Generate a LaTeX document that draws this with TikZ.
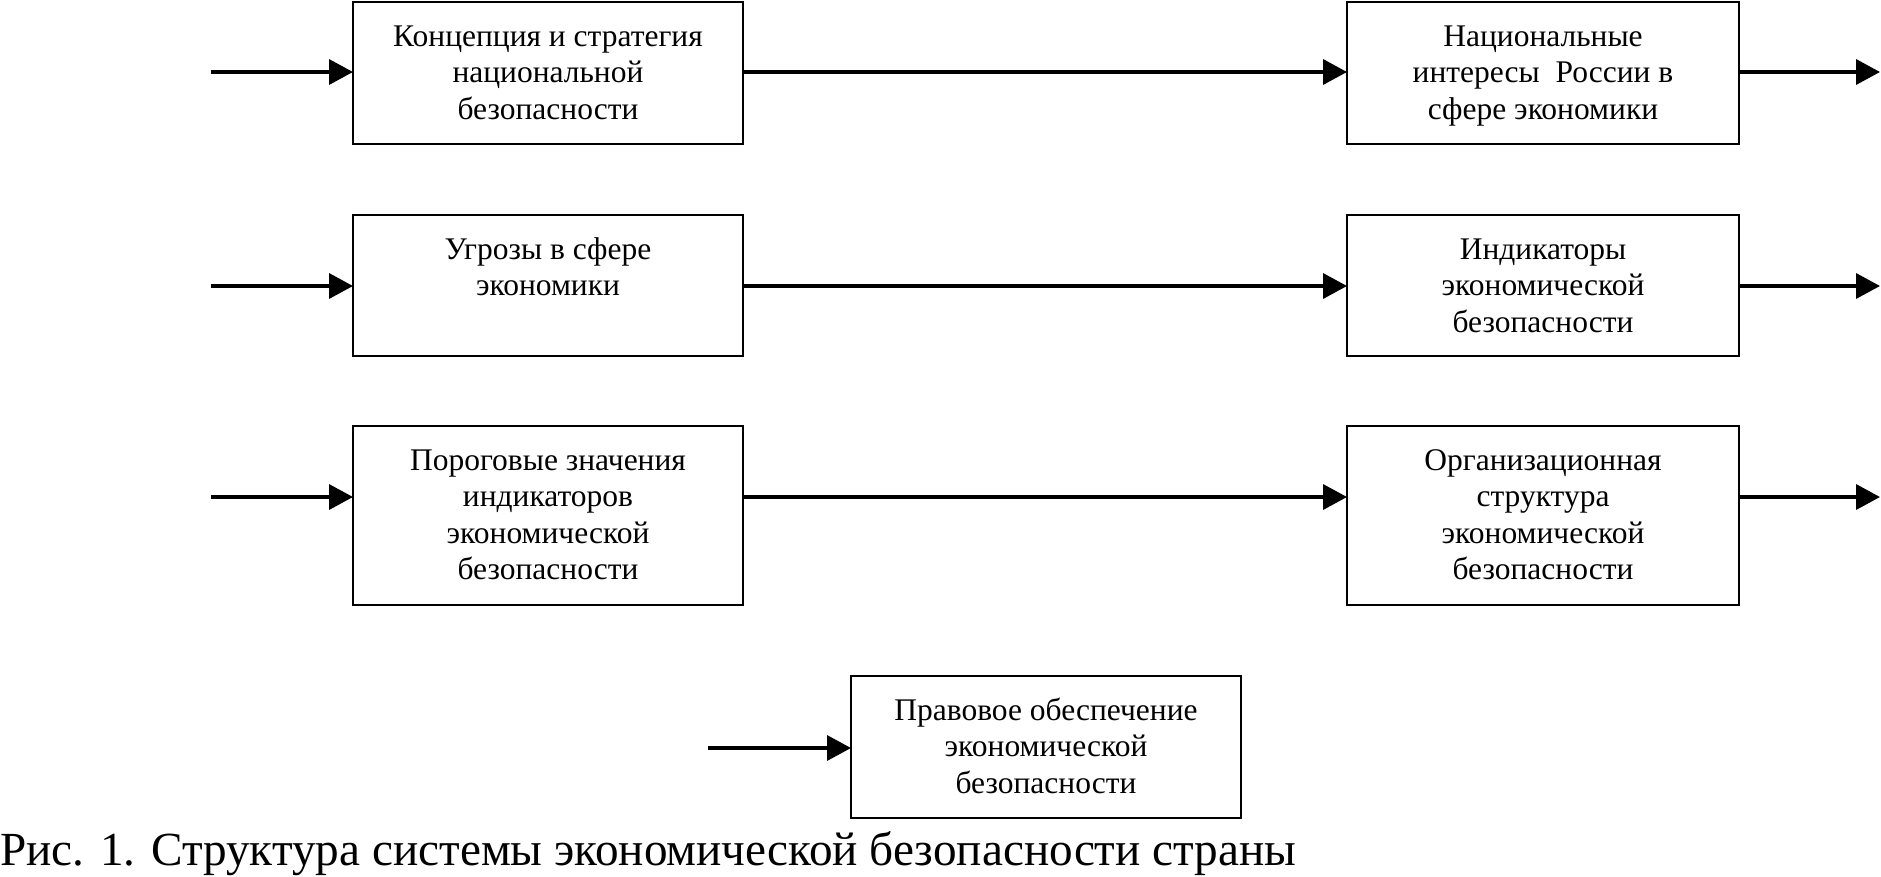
\documentclass[tikz,border=0pt]{standalone}
\usepackage{fontspec}
\setmainfont{Liberation Serif}
\usetikzlibrary{arrows.meta}
\tikzset{
  blk/.style={draw=black, line width=2.4pt, inner sep=0pt, outer sep=0pt, font=\fontsize{31.5pt}{36.5pt}\selectfont},
  arr/.style={line width=3.6pt, -{Triangle[length=24pt,width=25pt]}},
}
\newcommand{\boxtext}[3]{\parbox[c][#2][t]{#1}{\centering\vspace*{20pt}\rule{0pt}{24pt}#3\par}}
\begin{document}
\begin{tikzpicture}[x=1pt,y=-1pt]
\useasboundingbox (0,0) rectangle (1881,876);
% boxes
\node[blk] (b1) at (548,73) {\boxtext{390pt}{142pt}{Концепция и стратегия\\национальной\\безопасности}};
\node[blk] (b2) at (1543,73) {\boxtext{392pt}{142pt}{Национальные\\интересы\ \ России в\\сфере экономики}};
\node[blk] (b3) at (548,285.5) {\boxtext{390pt}{141pt}{Угрозы в сфере\\экономики}};
\node[blk] (b4) at (1543,285.5) {\boxtext{392pt}{141pt}{Индикаторы\\экономической\\безопасности}};
\node[blk] (b5) at (548,515.5) {\boxtext{390pt}{179pt}{Пороговые значения\\индикаторов\\экономической\\безопасности}};
\node[blk] (b6) at (1543,515.5) {\boxtext{392pt}{179pt}{Организационная\\структура\\экономической\\безопасности}};
\node[blk] (b7) at (1046,747) {\boxtext{390pt}{142pt}{Правовое обеспечение\\экономической\\безопасности}};
% free ends
\coordinate (i1) at (211,72);
\coordinate (i2) at (211,286);
\coordinate (i3) at (211,497);
\coordinate (i4) at (708,748);
\coordinate (o1) at (1880,72);
\coordinate (o2) at (1880,286);
\coordinate (o3) at (1880,497);
% connectors
\draw[arr] (i1) -- (i1 -| b1.west);
\draw[arr] (i2) -- (i2 -| b3.west);
\draw[arr] (i3) -- (i3 -| b5.west);
\draw[arr] (i4) -- (i4 -| b7.west);
\draw[arr] (i1 -| b1.east) -- (i1 -| b2.west);
\draw[arr] (i2 -| b3.east) -- (i2 -| b4.west);
\draw[arr] (i3 -| b5.east) -- (i3 -| b6.west);
\draw[arr] (o1 -| b2.east) -- (o1);
\draw[arr] (o2 -| b4.east) -- (o2);
\draw[arr] (o3 -| b6.east) -- (o3);
% caption
\node[anchor=base west, inner sep=0pt] (cap) at (0,865) {\resizebox{1296pt}{34pt}{\fontsize{40pt}{48pt}\selectfont Рис. 1. Структура системы экономической безопасности страны}};
\end{tikzpicture}
\end{document}
